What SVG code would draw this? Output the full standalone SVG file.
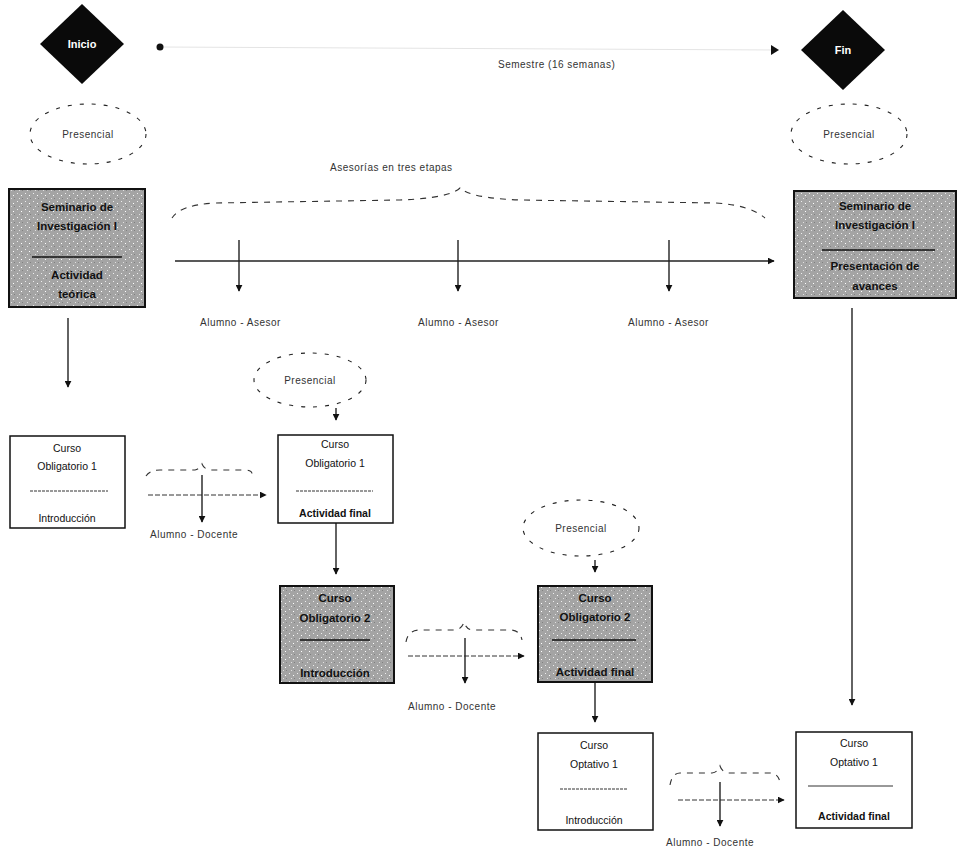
<svg xmlns="http://www.w3.org/2000/svg" width="957" height="852" viewBox="0 0 957 852">
<defs>
<style>
text{font-family:"Liberation Sans",Arial,sans-serif;fill:#111;}
.lbl{font-size:10px;letter-spacing:0.5px;fill:#333;}
.bt{font-size:11.5px;font-weight:bold;text-anchor:middle;}
.wt{font-size:10.5px;text-anchor:middle;}
.box{fill:#fff;stroke:#111;stroke-width:1.5;}
.dbox{fill:url(#tex);stroke:#111;stroke-width:2;}
.ell{fill:none;stroke:#222;stroke-width:1.1;stroke-dasharray:4 8;}
.ln{stroke:#222;stroke-width:1.4;fill:none;}
.hl{stroke:#333;stroke-width:1;fill:none;stroke-dasharray:5 2;}
.sep{stroke:#333;stroke-width:1;stroke-dasharray:3 1;}
.brace{fill:none;stroke:#333;stroke-width:1.1;stroke-dasharray:6 6;}
</style>
<pattern id="tex" width="8" height="8" patternUnits="userSpaceOnUse">
<rect width="8" height="8" fill="#a4a4a4"/>
<rect x="1" y="1" width="1" height="1" fill="#eeeeee"/>
<rect x="5" y="3" width="1" height="1" fill="#ffffff"/>
<rect x="3" y="6" width="1" height="1" fill="#e0e0e0"/>
<rect x="6" y="6" width="1" height="1" fill="#808080"/>
</pattern>
<marker id="ah" viewBox="0 0 10 10" refX="9" refY="5" markerWidth="7" markerHeight="7" orient="auto" markerUnits="userSpaceOnUse">
<path d="M0,0 L10,5 L0,10 z" fill="#111"/>
</marker>
</defs>
<rect width="957" height="852" fill="#fff"/>

<g id="connectors">
<line x1="160" y1="47" x2="776" y2="50" stroke="#e4e4e4" stroke-width="1"/>
<circle cx="160" cy="47" r="3.5" fill="#111"/>
<path d="M771,45 L779,50 L771,55 z" fill="#111"/>
<text class="lbl" x="498" y="68">Semestre (16 semanas)</text>

<path class="brace" d="M172,218 Q180,205 215,203 L400,200 Q450,198 460,188 Q470,198 520,200 L715,203 Q750,205 765,218"/>
<text class="lbl" x="330" y="171">Asesorías en tres etapas</text>
<line class="ln" x1="175" y1="261" x2="774" y2="261" marker-end="url(#ah)"/>
<line class="ln" x1="239" y1="240" x2="239" y2="291" marker-end="url(#ah)"/>
<line class="ln" x1="458" y1="240" x2="458" y2="291" marker-end="url(#ah)"/>
<line class="ln" x1="669" y1="240" x2="669" y2="291" marker-end="url(#ah)"/>
<text class="lbl" x="200" y="326">Alumno - Asesor</text>
<text class="lbl" x="418" y="326">Alumno - Asesor</text>
<text class="lbl" x="628" y="326">Alumno - Asesor</text>

<line class="ln" x1="68" y1="318" x2="68" y2="387" marker-end="url(#ah)"/>
<line class="ln" x1="852" y1="308" x2="852" y2="705" marker-end="url(#ah)"/>

<path class="brace" d="M146,476 Q150,470 160,470 L195,470 Q200,469 202,464 Q204,469 210,470 L245,470 Q252,470 252,474"/>
<line class="hl" x1="148" y1="495" x2="266" y2="495" marker-end="url(#ah)"/>
<line class="ln" x1="202" y1="475" x2="202" y2="522" marker-end="url(#ah)"/>
<text class="lbl" x="150" y="538">Alumno - Docente</text>

<line class="ln" x1="336" y1="408" x2="336" y2="420" marker-end="url(#ah)"/>
<line class="ln" x1="336" y1="523" x2="336" y2="574" marker-end="url(#ah)"/>

<path class="brace" d="M406,642 Q408,630 420,630 L455,630 Q462,629 464,622 Q466,629 472,630 L510,630 Q520,630 522,640"/>
<line class="hl" x1="408" y1="656" x2="524" y2="656" marker-end="url(#ah)"/>
<line class="ln" x1="465" y1="638" x2="465" y2="683" marker-end="url(#ah)"/>
<text class="lbl" x="408" y="710">Alumno - Docente</text>

<line class="ln" x1="595" y1="560" x2="595" y2="572" marker-end="url(#ah)"/>
<line class="ln" x1="595" y1="683" x2="595" y2="722" marker-end="url(#ah)"/>

<path class="brace" d="M670,785 Q672,773 680,773 L712,773 Q718,772 720,766 Q722,772 728,773 L770,773 Q778,773 780,782"/>
<line class="hl" x1="678" y1="800" x2="784" y2="800" marker-end="url(#ah)"/>
<line class="ln" x1="720" y1="782" x2="720" y2="826" marker-end="url(#ah)"/>
<text class="lbl" x="666" y="846">Alumno - Docente</text>
</g>

<g id="inicio">
<path d="M82,4 L124,44 L82,84 L40,44 z" fill="#0a0a0a"/>
<text x="82" y="48" font-size="11" font-weight="bold" text-anchor="middle" style="fill:#fff">Inicio</text>
</g>
<g id="fin">
<path d="M843,10 L885,50 L843,90 L801,50 z" fill="#0a0a0a"/>
<text x="843" y="54" font-size="11" font-weight="bold" text-anchor="middle" style="fill:#fff">Fin</text>
</g>

<g id="presencial1">
<ellipse class="ell" cx="88" cy="134" rx="58" ry="30"/>
<text class="lbl" x="88" y="138" text-anchor="middle">Presencial</text>
</g>
<g id="presencial2">
<ellipse class="ell" cx="849" cy="134" rx="58" ry="30"/>
<text class="lbl" x="849" y="138" text-anchor="middle">Presencial</text>
</g>
<g id="presencial3">
<ellipse class="ell" cx="310" cy="380" rx="56" ry="27"/>
<text class="lbl" x="310" y="384" text-anchor="middle">Presencial</text>
</g>
<g id="presencial4">
<ellipse class="ell" cx="581" cy="528" rx="58" ry="28"/>
<text class="lbl" x="581" y="532" text-anchor="middle">Presencial</text>
</g>

<g id="seminario1">
<rect class="dbox" x="9" y="189" width="136" height="118"/>
<text class="bt" x="77" y="211">Seminario de</text>
<text class="bt" x="77" y="230">Investigación I</text>
<line x1="32" y1="257" x2="122" y2="257" stroke="#111" stroke-width="1.5"/>
<text class="bt" x="77" y="279">Actividad</text>
<text class="bt" x="77" y="298">teórica</text>
</g>
<g id="seminario2">
<rect class="dbox" x="794" y="191" width="162" height="107"/>
<text class="bt" x="875" y="210">Seminario de</text>
<text class="bt" x="875" y="229">Investigación I</text>
<line x1="822" y1="250" x2="935" y2="250" stroke="#111" stroke-width="1.5"/>
<text class="bt" x="875" y="270">Presentación de</text>
<text class="bt" x="875" y="290">avances</text>
</g>

<g id="obl1-intro">
<rect class="box" x="10" y="436" width="115" height="92"/>
<text class="wt" x="67" y="452">Curso</text>
<text class="wt" x="67" y="470">Obligatorio 1</text>
<line class="sep" x1="30" y1="491" x2="108" y2="491"/>
<text class="wt" x="67" y="522">Introducción</text>
</g>
<g id="obl1-final">
<rect class="box" x="278" y="435" width="115" height="88"/>
<text class="wt" x="335" y="448">Curso</text>
<text class="wt" x="335" y="467">Obligatorio 1</text>
<line class="sep" x1="296" y1="491" x2="373" y2="491"/>
<text class="wt" x="335" y="517" font-weight="bold">Actividad final</text>
</g>
<g id="obl2-intro">
<rect class="dbox" x="280" y="586" width="114" height="97"/>
<text class="bt" x="335" y="602">Curso</text>
<text class="bt" x="335" y="622">Obligatorio 2</text>
<line x1="300" y1="640" x2="370" y2="640" stroke="#111" stroke-width="1.5"/>
<text class="bt" x="335" y="677" font-size="13">Introducción</text>
</g>
<g id="obl2-final">
<rect class="dbox" x="538" y="586" width="114" height="96"/>
<text class="bt" x="595" y="602">Curso</text>
<text class="bt" x="595" y="621">Obligatorio 2</text>
<line x1="552" y1="640" x2="636" y2="640" stroke="#111" stroke-width="1.5"/>
<text class="bt" x="595" y="676">Actividad final</text>
</g>
<g id="opt1-intro">
<rect class="box" x="538" y="733" width="115" height="97"/>
<text class="wt" x="594" y="749">Curso</text>
<text class="wt" x="594" y="768">Optativo 1</text>
<line class="sep" x1="560" y1="789" x2="627" y2="789"/>
<text class="wt" x="594" y="824">Introducción</text>
</g>
<g id="opt1-final">
<rect class="box" x="796" y="732" width="116" height="96"/>
<text class="wt" x="854" y="747">Curso</text>
<text class="wt" x="854" y="766">Optativo 1</text>
<line x1="808" y1="786" x2="893" y2="786" stroke="#333" stroke-width="1"/>
<text class="wt" x="854" y="820" font-weight="bold">Actividad final</text>
</g>
</svg>
